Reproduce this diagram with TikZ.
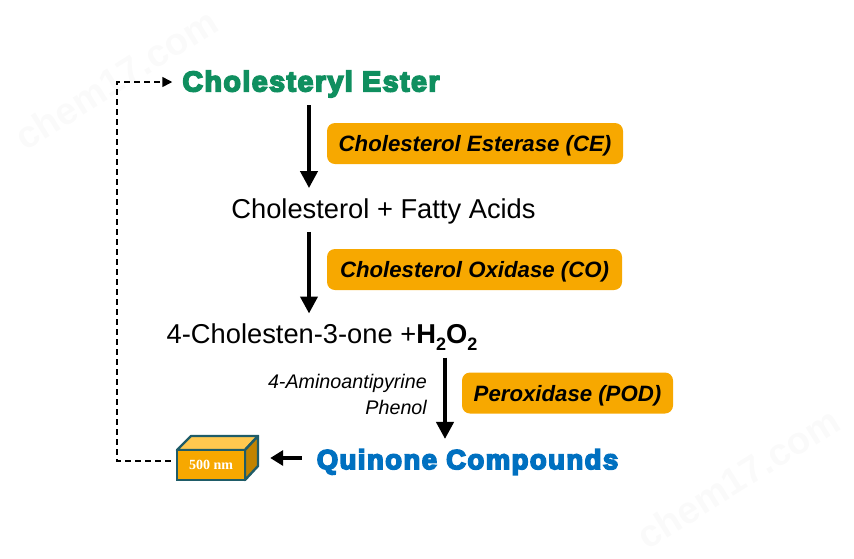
\documentclass[tikz,border=0pt]{standalone}
\usepackage{fontspec}
\setmainfont{Liberation Sans}
\newfontfamily\heavyfont[FakeBold=6,LetterSpace=5.3]{Liberation Sans Bold}
\newfontfamily\boxfont{Liberation Serif}
\usetikzlibrary{arrows.meta}
\definecolor{pillorange}{HTML}{F7A800}
\definecolor{boxedge}{HTML}{1F5C68}
\definecolor{boxtop}{HTML}{FFC84F}
\definecolor{estergreen}{HTML}{0F8F5F}
\definecolor{quinoneblue}{HTML}{0070C0}
\newcommand{\subdigit}[1]{\raisebox{-0.25em}{\fontsize{18}{18}\selectfont #1}}
\begin{document}
\begin{tikzpicture}[x=1pt,y=-1pt]
    \tikzset{
        title/.style={font=\heavyfont\fontsize{#1}{#1}\selectfont, inner sep=0pt},
        species/.style={font=\fontsize{27.3}{30}\selectfont, inner sep=0pt},
        pill/.style={fill=pillorange, rounded corners=8pt, minimum height=41pt, inner sep=0pt, text depth=0pt,
            font=\bfseries\itshape\fontsize{22.2}{24}\selectfont},
        flow/.style={-{Triangle[length=17pt,width=17pt]}, line width=4pt},
        dashline/.style={dashed, line width=1.5pt, dash pattern=on 6pt off 4pt},
        stamp/.style={text=gray!4, font=\bfseries\fontsize{38}{38}\selectfont, rotate=32, inner sep=0pt}
    }
    \useasboundingbox (0,0) rectangle (854,558);

    \draw node[stamp] (stampA) at (116,79) {chem17.com};
    \draw node[stamp] (stampB) at (738,478) {chem17.com};

    \draw node[title=28.5, text=estergreen] (ester) at (311,84) {Cholesteryl Ester};
    \draw node[species] (fatty) at (383.5,211) {Cholesterol + Fatty Acids};
    \draw node[species] (one) at (322,337) {4-Cholesten-3-one +\textbf{H\subdigit{2}O\subdigit{2}}};
    \draw node[title=27.5, text=quinoneblue] (quinone) at (467.5,462) {Quinone Compounds};

    \draw node[pill, minimum width=296pt] (ce) at (475,143.5) {Cholesterol Esterase (CE)};
    \draw node[pill, minimum width=295pt] (co) at (474.5,269.5) {Cholesterol Oxidase (CO)};
    \draw node[pill, minimum width=211pt] (pod) at (567.5,393) {Peroxidase (POD)};

    \draw node[anchor=east, align=right, inner sep=0pt, font=\itshape\fontsize{19.7}{26}\selectfont] (aap) at (427,394)
        {4-Aminoantipyrine\\Phenol};

    \draw[boxedge, line width=2.4pt, line join=round, fill=boxtop] (177,450) -- (191,436) -- (258,436) -- (245,450) -- cycle;
    \draw[boxedge, line width=2.4pt, line join=round, fill=pillorange!78!black] (245,450) -- (258,436) -- (258,466) -- (245,480) -- cycle;
    \draw node[draw=boxedge, line width=2.4pt, fill=pillorange, minimum width=68pt, minimum height=30pt, inner sep=0pt, text depth=0pt,
        text=white, font=\boxfont\bfseries\fontsize{14}{14}\selectfont] (box) at (211,465) {500 nm};

    \foreach \x/\y/\sx/\sy/\ex/\ey in {%
        ester/fatty/-2/-8/-74.5/10,fatty/one/-74.5/-8/-13/10,one/quinone/123/-7/-22.5/10%
    }{
        \draw[flow] ([xshift=\sx pt,yshift=\sy pt]\x.south) -- ([xshift=\ex pt,yshift=\ey pt]\y.north);
    }
    \draw[-{Triangle[length=13pt,width=15pt]}, line width=4pt] ([xshift=-15pt,yshift=4pt]quinone.west) -- ([xshift=24pt,yshift=7pt]box.east);

    \coordinate (bendA) at (117,461);
    \coordinate (bendB) at (117,82);
    \draw[dashline, -{Triangle[length=10pt,width=10pt]}] ([xshift=-5pt,yshift=4pt]box.west) -- (bendA) -- (bendB) -- ([xshift=-10pt,yshift=2pt]ester.west);
\end{tikzpicture}
\end{document}
